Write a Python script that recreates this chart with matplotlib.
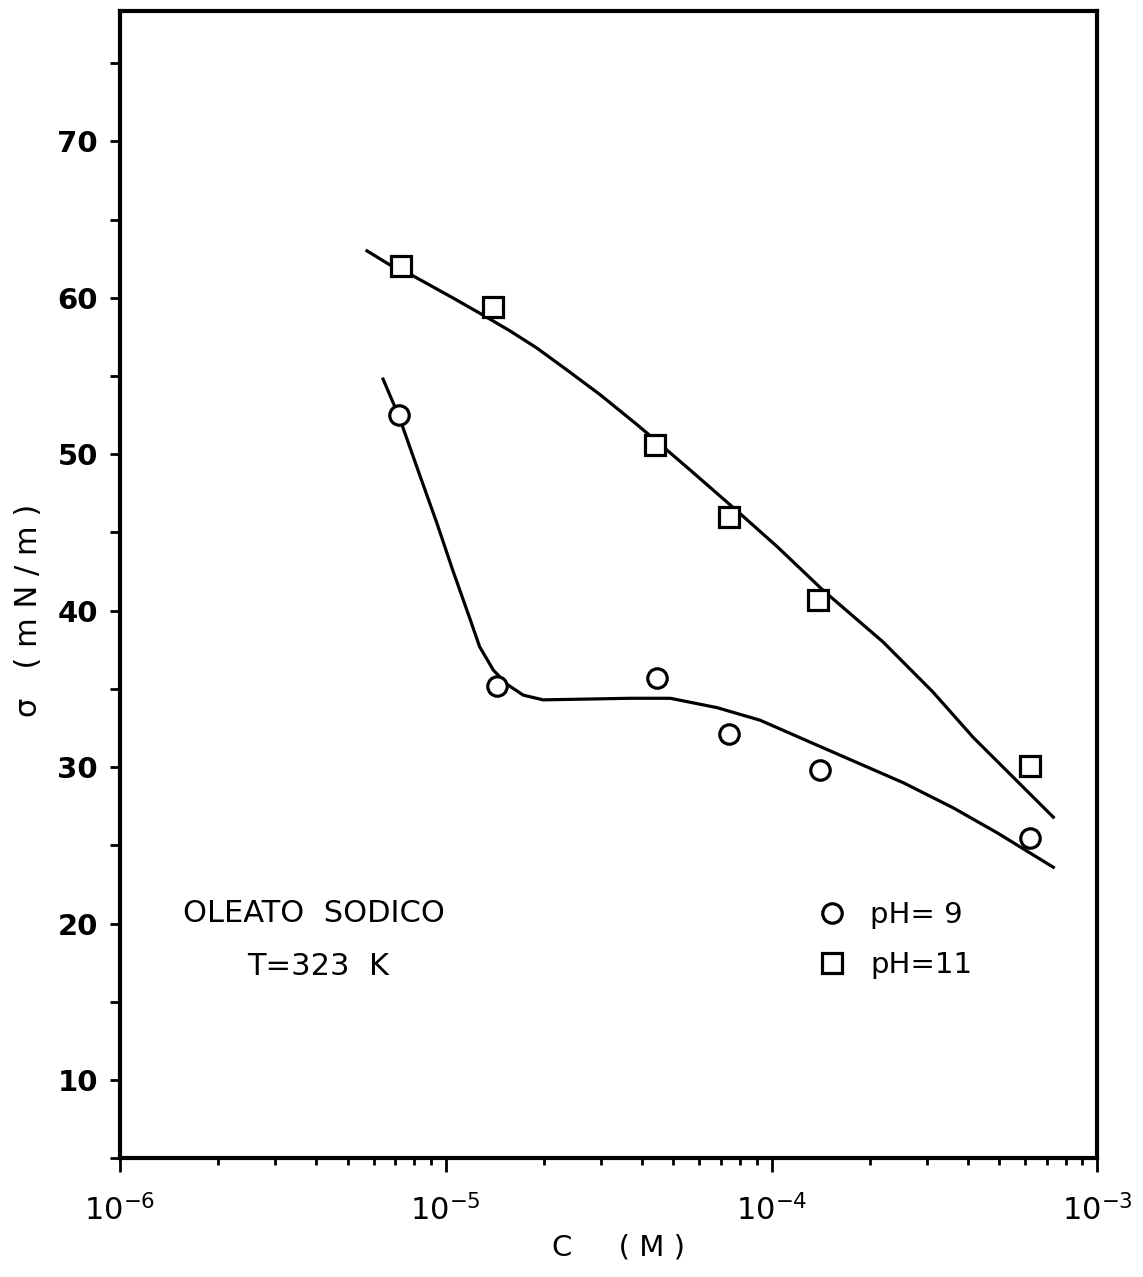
import numpy as np
import matplotlib
matplotlib.use("Agg")
import matplotlib.pyplot as plt
from matplotlib.ticker import LogLocator, MultipleLocator, NullFormatter

# measured surface tension, sodium oleate at 323 K
conc_ph9 = [7.2e-6, 1.44e-5, 4.45e-5, 7.4e-5, 1.41e-4, 6.2e-4]
sigma_ph9 = [52.5, 35.2, 35.7, 32.1, 29.8, 25.5]
conc_ph11 = [7.3e-6, 1.4e-5, 4.4e-5, 7.4e-5, 1.39e-4, 6.2e-4]
sigma_ph11 = [62.0, 59.4, 50.6, 46.0, 40.7, 30.1]

# hand-drawn trend curves
curve_ph9_c = [6.42e-6, 7.19e-6, 8.34e-6, 9.39e-6, 1.05e-5, 1.19e-5, 1.27e-5, 1.40e-5,
               1.54e-5, 1.73e-5, 1.99e-5, 3.68e-5, 4.89e-5, 6.81e-5, 9.22e-5, 1.28e-4,
               1.78e-4, 2.54e-4, 3.61e-4, 4.93e-4, 7.33e-4]
curve_ph9_s = [54.8, 52.4, 48.6, 45.6, 42.6, 39.4, 37.7, 36.2,
               35.3, 34.6, 34.3, 34.4, 34.4, 33.8, 33.0, 31.7,
               30.4, 29.0, 27.4, 25.8, 23.6]
curve_ph11_c = [5.73e-6, 6.74e-6, 7.94e-6, 1.05e-5, 1.30e-5, 1.57e-5, 1.90e-5, 2.35e-5,
                2.98e-5, 3.86e-5, 4.40e-5, 5.62e-5, 7.62e-5, 1.04e-4, 1.44e-4, 2.20e-4,
                3.13e-4, 4.16e-4, 7.33e-4]
curve_ph11_s = [63.0, 62.1, 61.4, 60.0, 58.9, 57.9, 56.8, 55.4,
                53.8, 51.9, 50.9, 49.0, 46.6, 44.1, 41.3, 38.0,
                34.8, 31.9, 26.8]

fig = plt.figure(figsize=(11.43, 12.77), dpi=100)
ax = fig.add_axes([0.105, 0.093, 0.855, 0.898])

ax.plot(curve_ph11_c, curve_ph11_s, color="black", lw=2.3, solid_joinstyle="round")
ax.plot(curve_ph9_c, curve_ph9_s, color="black", lw=2.3, solid_joinstyle="round")
ax.plot(conc_ph9, sigma_ph9, "o", ms=14, mfc="white", mec="black", mew=2.3,
        linestyle="none", label="pH= 9", zorder=3)
ax.plot(conc_ph11, sigma_ph11, "s", ms=14, mfc="white", mec="black", mew=2.3,
        linestyle="none", label="pH=11", zorder=3)

ax.set_xscale("log")
ax.set_xlim(1e-6, 1e-3)
ax.set_ylim(5, 78.3)

ax.xaxis.set_major_locator(LogLocator(base=10, numticks=10))
ax.xaxis.set_minor_locator(LogLocator(base=10, subs=np.arange(2, 10), numticks=10))
ax.xaxis.set_minor_formatter(NullFormatter())
ax.yaxis.set_minor_locator(MultipleLocator(5))
ax.set_yticks(np.arange(10, 71, 10))

for s in ax.spines.values():
    s.set_linewidth(3)

ax.tick_params(axis="x", which="major", direction="out", length=10, width=2, pad=16, labelsize=22)
ax.tick_params(axis="x", which="minor", direction="out", length=5, width=2)
ax.tick_params(axis="y", which="both", direction="out", length=7, width=2, pad=9, labelsize=21)
for lab in ax.get_yticklabels():
    lab.set_fontweight("bold")

ax.set_xlabel("C     ( M )", fontsize=21)
ax.xaxis.set_label_coords(0.51, -0.066)
ax.set_ylabel("σ   ( m N / m )", fontsize=22)
ax.yaxis.set_label_coords(-0.079, 0.478)

ax.text(0.0645, 0.213, "OLEATO  SODICO", transform=ax.transAxes, fontsize=22, va="center")
ax.text(0.130, 0.167, "T=323  K", transform=ax.transAxes, fontsize=22, va="center")

ax.legend(loc="center left", bbox_to_anchor=(0.702, 0.19), frameon=False, fontsize=21,
          handletextpad=0.8, labelspacing=0.75, handlelength=1.0, borderaxespad=0)

fig.savefig("out.png", dpi=100, facecolor="white")
